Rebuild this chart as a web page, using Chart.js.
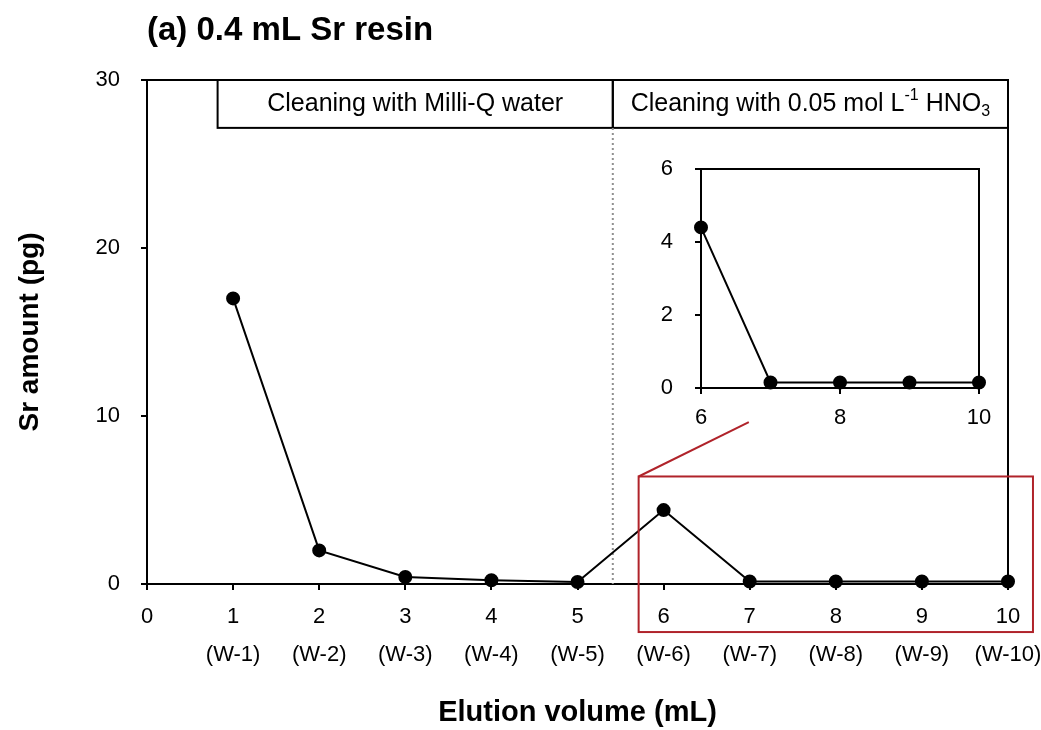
<!DOCTYPE html>
<html>
<head>
<meta charset="utf-8">
<title>Sr resin cleaning</title>
<script src="https://cdn.jsdelivr.net/npm/chart.js@4.4.1/dist/chart.umd.min.js"></script>
<style>
  html, body { margin: 0; padding: 0; background: #fff; }
  #wrap { position: relative; width: 1041px; height: 730px; }
  #main { position: absolute; left: 0; top: 0; }
  #inset { position: absolute; left: 630px; top: 150px; }
</style>
</head>
<body>
<div id="wrap">
  <canvas id="main" width="1041" height="730"></canvas>
  <canvas id="inset" width="370" height="290"></canvas>
</div>
<script>
const FONT = "'Liberation Sans', Arial, sans-serif";

// main series: elution volume (mL) vs Sr amount (pg)
const volume = [1, 2, 3, 4, 5, 6, 7, 8, 9, 10];
const srAmount = [17.0, 2.0, 0.42, 0.22, 0.12, 4.4, 0.15, 0.15, 0.15, 0.15];
const washLabels = ['(W-1)', '(W-2)', '(W-3)', '(W-4)', '(W-5)', '(W-6)', '(W-7)', '(W-8)', '(W-9)', '(W-10)'];

// inset (zoom on 6-10 mL)
const insetVolume = [6, 7, 8, 9, 10];
const insetAmount = [4.4, 0.15, 0.15, 0.15, 0.15];

// cleaning phases shown as header boxes
const phaseLabels = ['Cleaning with Milli-Q water', 'Cleaning with 0.05 mol L^{-1} HNO_{3}'];
const phaseFrom = [0.82, 5.41];
const phaseTo = [5.41, 10];

// draws text with ^{sup} and _{sub} parts, centred on cx
function drawRich(ctx, text, cx, cy, size) {
  const parts = [];
  const re = /([\^_])\{([^}]*)\}/g;
  let last = 0, m;
  while ((m = re.exec(text)) !== null) {
    if (m.index > last) parts.push({ t: text.slice(last, m.index), k: '' });
    parts.push({ t: m[2], k: m[1] });
    last = re.lastIndex;
  }
  if (last < text.length) parts.push({ t: text.slice(last), k: '' });

  const small = Math.round(size * 0.62);
  let total = 0;
  parts.forEach(p => {
    ctx.font = (p.k ? small : size) + 'px ' + FONT;
    p.w = ctx.measureText(p.t).width;
    total += p.w;
  });
  let xx = cx - total / 2;
  ctx.textAlign = 'left';
  ctx.textBaseline = 'middle';
  ctx.fillStyle = '#000';
  parts.forEach(p => {
    ctx.font = (p.k ? small : size) + 'px ' + FONT;
    let dy = 0;
    if (p.k === '^') dy = -size * 0.33;
    if (p.k === '_') dy = size * 0.3;
    ctx.fillText(p.t, xx, cy + dy);
    xx += p.w;
  });
}

const mainDecor = {
  id: 'mainDecor',
  beforeDatasetsDraw(chart) {
    const { ctx, chartArea: a, scales: { x, y } } = chart;
    ctx.save();
    ctx.strokeStyle = '#000';
    ctx.lineWidth = 2;
    // close the frame (top and right)
    ctx.beginPath();
    ctx.moveTo(a.left, a.top);
    ctx.lineTo(a.right, a.top);
    ctx.lineTo(a.right, a.bottom);
    ctx.stroke();

    // header boxes
    const yTop = y.getPixelForValue(30);
    const yBot = y.getPixelForValue(27.15);
    phaseLabels.forEach((label, i) => {
      const x0 = x.getPixelForValue(phaseFrom[i]);
      const x1 = x.getPixelForValue(phaseTo[i]);
      ctx.strokeStyle = '#000';
      ctx.lineWidth = 2;
      ctx.strokeRect(x0, yTop, x1 - x0, yBot - yTop);
      drawRich(ctx, label, (x0 + x1) / 2, (yTop + yBot) / 2, 25);
    });

    // dotted boundary between the two phases
    const xb = x.getPixelForValue(phaseTo[0]);
    ctx.strokeStyle = '#909090';
    ctx.lineWidth = 2;
    ctx.setLineDash([2, 3]);
    ctx.beginPath();
    ctx.moveTo(xb, yBot);
    ctx.lineTo(xb, y.getPixelForValue(0));
    ctx.stroke();
    ctx.restore();
  },
  afterDatasetsDraw(chart) {
    const { ctx, scales: { x, y } } = chart;
    ctx.save();
    // red zoom box with the leader line to the inset
    const rx0 = x.getPixelForValue(5.71), rx1 = x.getPixelForValue(10.29);
    const ry0 = y.getPixelForValue(6.4), ry1 = y.getPixelForValue(-2.86);
    ctx.strokeStyle = '#b0232a';
    ctx.lineWidth = 2;
    ctx.strokeRect(rx0, ry0, rx1 - rx0, ry1 - ry0);
    ctx.beginPath();
    ctx.moveTo(rx0, ry0);
    ctx.lineTo(x.getPixelForValue(6.99), y.getPixelForValue(9.64));
    ctx.stroke();
    ctx.restore();
  }
};

const insetFrame = {
  id: 'insetFrame',
  beforeDatasetsDraw(chart) {
    const { ctx, chartArea: a } = chart;
    ctx.save();
    ctx.strokeStyle = '#000';
    ctx.lineWidth = 2;
    ctx.beginPath();
    ctx.moveTo(a.left, a.top);
    ctx.lineTo(a.right, a.top);
    ctx.lineTo(a.right, a.bottom);
    ctx.stroke();
    ctx.restore();
  }
};

// fixed axis sizes, no extra label overflow padding
function fixSize(w, h) {
  return s => {
    if (w !== null) s.width = w;
    if (h !== null) s.height = h;
    s.paddingLeft = 0;
    s.paddingRight = 0;
    s.paddingTop = 0;
    s.paddingBottom = 0;
  };
}

const axisGrid = {
  drawOnChartArea: false,
  tickLength: 6,
  color: '#000',
  lineWidth: 2
};
const axisBorder = { color: '#000', width: 2 };

new Chart(document.getElementById('main'), {
  type: 'scatter',
  data: {
    datasets: [{
      data: volume.map((v, i) => ({ x: v, y: srAmount[i] })),
      showLine: true,
      borderColor: '#000',
      borderWidth: 2,
      pointRadius: 6,
      pointBackgroundColor: '#000',
      pointBorderColor: '#000',
      clip: false
    }]
  },
  options: {
    responsive: false,
    animation: false,
    layout: { padding: { top: 0, right: 33, bottom: 0, left: 0 } },
    plugins: {
      legend: { display: false },
      tooltip: { enabled: false },
      title: {
        display: true,
        text: '(a) 0.4 mL Sr resin',
        align: 'start',
        fullSize: false,
        color: '#000',
        font: { family: FONT, size: 33, weight: 'bold' },
        padding: { top: 11, bottom: 29.4 }
      }
    },
    scales: {
      x: {
        type: 'linear',
        position: 'bottom',
        min: 0,
        max: 10,
        ticks: { stepSize: 1, color: '#000', font: { family: FONT, size: 22 }, padding: 14 },
        grid: axisGrid,
        border: axisBorder,
        afterFit: fixSize(null, 48)
      },
      x2: {
        type: 'linear',
        position: 'bottom',
        min: 0,
        max: 10,
        ticks: {
          stepSize: 1,
          color: '#000',
          font: { family: FONT, size: 22 },
          padding: 2,
          callback: v => washLabels[v - 1] || ''
        },
        grid: { display: false },
        border: { display: false },
        title: {
          display: true,
          text: 'Elution volume (mL)',
          color: '#000',
          font: { family: FONT, size: 29, weight: 'bold' },
          padding: { top: 0, bottom: 0 }
        },
        afterFit: fixSize(null, 98)
      },
      y: {
        min: 0,
        max: 30,
        ticks: { stepSize: 10, color: '#000', font: { family: FONT, size: 22 }, padding: 21 },
        grid: axisGrid,
        border: axisBorder,
        title: {
          display: true,
          text: 'Sr amount (pg)',
          color: '#000',
          font: { family: FONT, size: 28, weight: 'bold' },
          padding: { top: 13, bottom: 0 }
        },
        afterFit: fixSize(147, null)
      }
    }
  },
  plugins: [mainDecor]
});

new Chart(document.getElementById('inset'), {
  type: 'scatter',
  data: {
    datasets: [{
      data: insetVolume.map((v, i) => ({ x: v, y: insetAmount[i] })),
      showLine: true,
      borderColor: '#000',
      borderWidth: 2,
      pointRadius: 6,
      pointBackgroundColor: '#000',
      pointBorderColor: '#000',
      clip: false
    }]
  },
  options: {
    responsive: false,
    animation: false,
    layout: { padding: { top: 19, right: 21, bottom: 0, left: 0 } },
    plugins: {
      legend: { display: false },
      tooltip: { enabled: false }
    },
    scales: {
      x: {
        type: 'linear',
        min: 6,
        max: 10,
        ticks: { stepSize: 2, color: '#000', font: { family: FONT, size: 22 }, padding: 11 },
        grid: axisGrid,
        border: axisBorder,
        afterFit: fixSize(null, 52)
      },
      y: {
        min: 0,
        max: 6,
        ticks: { stepSize: 2, color: '#000', font: { family: FONT, size: 22 }, padding: 22 },
        grid: axisGrid,
        border: axisBorder,
        afterFit: fixSize(71, null)
      }
    }
  },
  plugins: [insetFrame]
});
</script>
</body>
</html>
